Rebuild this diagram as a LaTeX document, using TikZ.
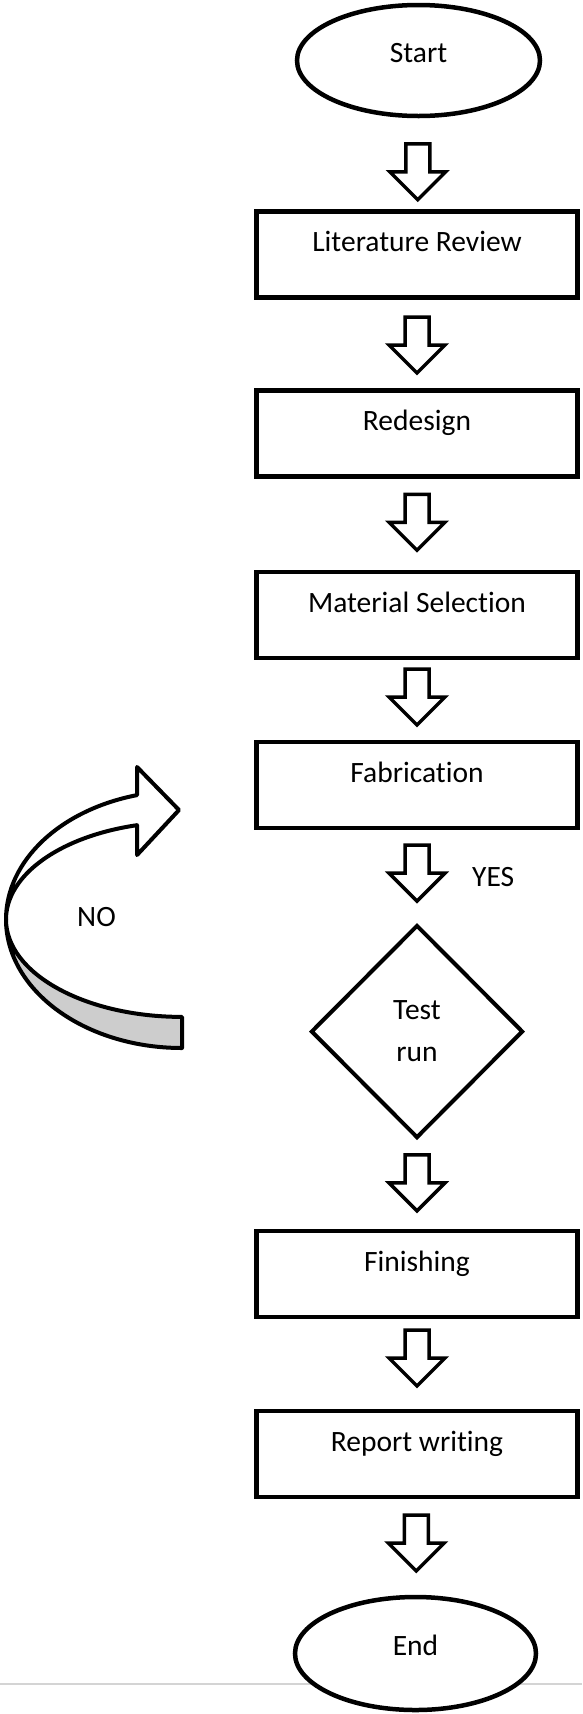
\documentclass[tikz,border=0pt]{standalone}
\usepackage{fontspec}
\setmainfont{Carlito}[Ligatures=CommonOff]
\usetikzlibrary{shapes.geometric,calc}
\definecolor{bandgray}{HTML}{CDCDCD}
\definecolor{rulegray}{HTML}{D4D4D4}

% hollow block arrow centred between two nodes (optional vertical shift)
\newcommand\flowarrow[3][0]{%
  \path ($(#2.south)!.5!(#3.north)$) ++(0,#1) coordinate (fa);
  \draw[blockarrow] (fa) ++(-12,-28) -- ++(24,0) -- ++(0,28) -- ++(16,0)
    -- ++(-28,28) -- ++(-28,-28) -- ++(16,0) -- cycle;}

\begin{document}
\begin{tikzpicture}[x=1pt, y=-1pt,
  every node/.style={font=\fontsize{29.5pt}{42pt}\selectfont},
  stepbox/.style={draw, line width=4.5pt, fill=white, minimum width=321pt,
    minimum height=86pt, inner sep=0pt, text height=40pt, text depth=46pt},
  terminal/.style={draw, ellipse, line width=4.5pt, fill=white, inner sep=0pt,
    text height=16pt, text depth=12pt},
  decision/.style={draw, diamond, line width=4pt, fill=white, align=center,
    minimum width=212pt, minimum height=213pt},
  blockarrow/.style={line width=3.5pt, fill=white},
  curvearrow/.style={draw, line width=4pt, line join=round},
  tag/.style={anchor=base west, inner sep=0pt},
]
\useasboundingbox (0,0) rectangle (582,1714);

% page rule behind the end terminal
\draw[rulegray, line width=2pt] (0,1684) -- (582,1684);

\node[terminal, minimum width=243pt, minimum height=111pt] (start) at (418.5,60.5) {Start};
\node[stepbox] (lit) at (417,254.5) {Literature Review};
\node[stepbox] (red) at (417,433.5) {Redesign};
\node[stepbox] (mat) at (417,615) {Material Selection};
\node[stepbox] (fab) at (417,785) {Fabrication};
\node[decision] (test) at (417,1031.5) {Test\\run};
\node[stepbox] (fin) at (417,1274) {Finishing};
\node[stepbox] (rep) at (417,1454) {Report writing};
\node[terminal, minimum width=241pt, minimum height=113pt] (end) at (415.5,1653.5) {End};

\flowarrow[8]{start}{lit}
\flowarrow[1]{lit}{red}
\flowarrow[-2]{red}{mat}
\flowarrow[-3]{mat}{fab}
\flowarrow[-3.5]{fab}{test}
\flowarrow[-1.5]{test}{fin}
\flowarrow[-6]{fin}{rep}
\flowarrow[-4]{rep}{end}

\node[tag] (yes) at (472,886.7) {YES};

% curved return arrow: back band (shaded) then front band with head
\coordinate (loopc) at (182,919.4);
\draw[curvearrow, fill=bandgray] (6,919.4)
  arc[start angle=180, end angle=90, x radius=176, y radius=128.6]
  -- (182,1016.9)
  arc[start angle=90, end angle=180, x radius=176, y radius=97.5] -- cycle;
\draw[curvearrow, fill=white] (137.05,795.1)
  arc[start angle=255.2, end angle=180, x radius=176, y radius=128.6]
  arc[start angle=180, end angle=255.2, x radius=176, y radius=97.5]
  -- (137.05,855) -- (179,810) -- (137.05,767) -- cycle;

\node[tag] (no) at (77,926.7) {NO};
\end{tikzpicture}
\end{document}
